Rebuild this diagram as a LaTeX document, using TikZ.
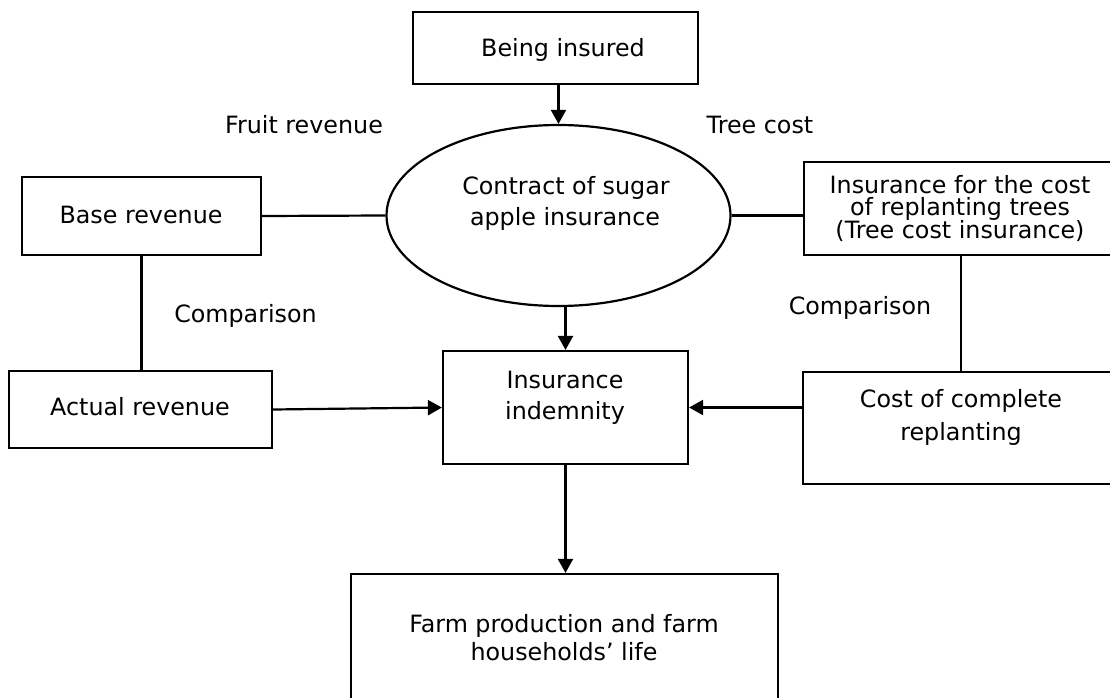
\documentclass[tikz,border=0pt]{standalone}
\usepackage{fontspec}
\setmainfont{DejaVu Sans}
\usetikzlibrary{shapes.geometric,arrows.meta}
\begin{document}
\begin{tikzpicture}[x=1pt,y=-1pt,
  box/.style={draw, line width=2.2pt, rectangle, inner sep=0pt},
  txt/.style={anchor=base, inner sep=0pt, font=\fontsize{23.8}{28}\selectfont},
  conn/.style={line width=2.2pt},
  arr/.style={line width=2.2pt, -{Triangle[length=14pt,width=15pt]}}]
\useasboundingbox (0,0) rectangle (1110,698);
% shapes
\node[box, minimum width=285pt, minimum height=72pt] (bi) at (555.5,48) {};
\node[draw, ellipse, line width=2.2pt, inner sep=0pt, minimum width=344pt, minimum height=181pt] (ell) at (558.5,215.5) {};
\node[box, minimum width=239pt, minimum height=78pt] (br) at (141.5,216) {};
\node[box, minimum width=314pt, minimum height=93pt] (ti) at (961,208.5) {};
\node[box, minimum width=263pt, minimum height=77pt] (ar) at (140.5,409.5) {};
\node[box, minimum width=245pt, minimum height=113pt] (ii) at (565.5,407.5) {};
\node[box, minimum width=316pt, minimum height=112pt] (cc) at (961,428) {};
\node[box, minimum width=427pt, minimum height=130pt] (fp) at (564.5,639) {};
% texts
\node[txt] (tbi) at (563,57) {Being insured};
\node[txt] (tfr) at (304,133) {Fruit revenue};
\node[txt] (ttc) at (760,133) {Tree cost};
\node[txt] (tell1) at (566,194) {Contract of sugar};
\node[txt] (tell2) at (565,225) {apple insurance};
\node[txt] (tbr) at (141,223) {Base revenue};
\node[txt] (tti1) at (960,193) {Insurance for the cost};
\node[txt] (tti2) at (960,215) {of replanting trees};
\node[txt] (tti3) at (960,238) {(Tree cost insurance)};
\node[txt] (tcl) at (245.5,322) {Comparison};
\node[txt] (tcr) at (860,314) {Comparison};
\node[txt] (tar) at (140,415) {Actual revenue};
\node[txt] (tii1) at (565,388) {Insurance};
\node[txt] (tii2) at (565,419) {indemnity};
\node[txt] (tcc1) at (961,407) {Cost of complete};
\node[txt] (tcc2) at (961,440) {replanting};
\node[txt] (tfp1) at (564,632) {Farm production and farm};
\node[txt] (tfp2) at (564,660) {households’ life};
% connectors
\draw[arr] (bi.south -| ell.north) -- (ell.north);
\draw[conn] (br.east) -- (ell.west);
\draw[conn] (ell.east) -- (ell.east -| ti.west);
\draw[conn] (br.south) -- (br.south |- ar.north);
\draw[conn] (ti.south) -- (cc.north);
\draw[arr] (ar.east) -- (ii.west);
\draw[arr] (ii.north |- ell.south) -- (ii.north);
\draw[arr] (cc.west |- ii.east) -- (ii.east);
\draw[arr] (ii.south) -- (ii.south |- fp.north);
\end{tikzpicture}
\end{document}
